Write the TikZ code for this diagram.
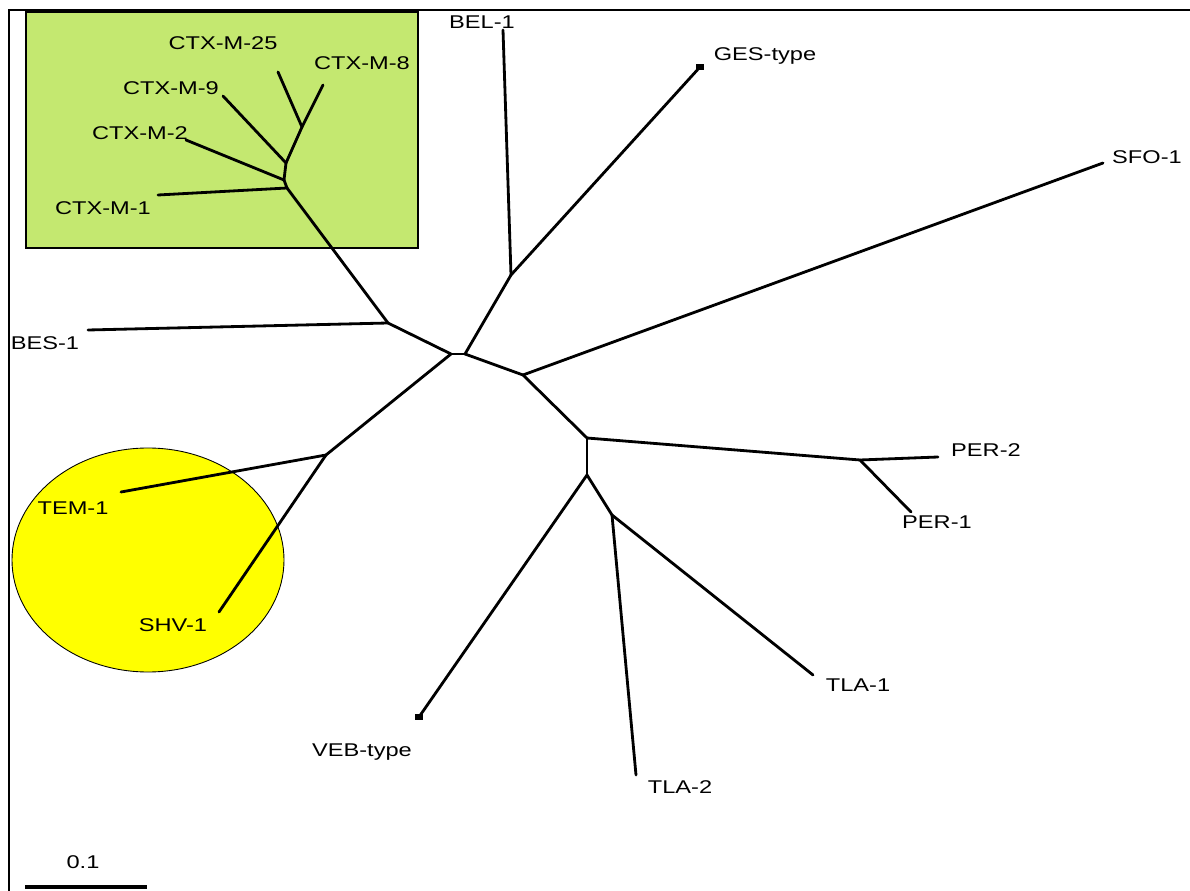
\documentclass[tikz,border=0pt]{standalone}
\usepackage{fontspec}
\newfontfamily\treefont{Liberation Sans}[FakeStretch=1.28]
\usepackage{tikz}
\usetikzlibrary{positioning}

\definecolor{ctxgreen}{RGB}{196,232,112}
\definecolor{shvyellow}{RGB}{255,255,0}

\begin{document}
\begin{tikzpicture}[
      x=0.02cm, y=-0.02cm,
      br/.style={line width=1.6pt, line cap=round, line join=round},
      lab/.style={font=\treefont\fontsize{10.5}{12}\selectfont, inner sep=0pt},
      tipmark/.style={fill=black, inner sep=0pt, minimum width=4.5pt, minimum height=3.5pt}]

    % Scale: 1 unit = 1 pixel of the 1190 x 891 frame
    \useasboundingbox (0,0) rectangle (1190,891);

    % Highlight areas (behind the tree)
    \draw[fill=ctxgreen, line width=0.6pt] (26,12) rectangle (418,248);
    \draw[fill=shvyellow, line width=0.5pt] (148,560) ellipse [x radius=136, y radius=112];

    % Frame (top and left only)
    \draw[line width=0.9pt] (9,891) -- (9,10) -- (1190,10);

    % === Inner nodes ===
    \coordinate (c8)    at (302,127);
    \coordinate (c9)    at (286,163);
    \coordinate (c2)    at (284,180);
    \coordinate (c1)    at (287,188);
    \coordinate (bes)   at (388,323);
    \coordinate (rootL) at (451,354);
    \coordinate (rootR) at (465,354);
    \coordinate (bel)   at (511,275);
    \coordinate (sfo)   at (523,375);
    \coordinate (per)   at (587,438);
    \coordinate (tla)   at (587,475);
    \coordinate (per12) at (860,460);
    \coordinate (tla12) at (612,515);
    \coordinate (tem)   at (326,455);

    % === Leaf ends ===
    \coordinate (eM25)  at (278,72);
    \coordinate (eM8)   at (323,85);
    \coordinate (eM9)   at (223,96);
    \coordinate (eM2)   at (186,140);
    \coordinate (eM1)   at (158,195);
    \coordinate (eBES)  at (88,330);
    \coordinate (eBEL)  at (503,30);
    \coordinate (eGES)  at (700,67);
    \coordinate (eSFO)  at (1103,163);
    \coordinate (ePER2) at (938,457);
    \coordinate (ePER1) at (911,512);
    \coordinate (eTLA1) at (813,675);
    \coordinate (eTLA2) at (636,775);
    \coordinate (eVEB)  at (419,717);
    \coordinate (eTEM)  at (121,492);
    \coordinate (eSHV)  at (219,612);

    % === Branches ===
    \foreach \a/\b in {eM25/c8, eM8/c8, c8/c9, eM9/c9, c9/c2, eM2/c2, c2/c1, eM1/c1,
                       c1/bes, eBES/bes, bes/rootL, rootL/rootR,
                       rootR/bel, bel/eBEL, bel/eGES,
                       rootR/sfo, sfo/eSFO, sfo/per,
                       per/per12, per12/ePER2, per12/ePER1,
                       per/tla, tla/eVEB, tla/tla12, tla12/eTLA1, tla12/eTLA2,
                       rootL/tem, tem/eTEM, tem/eSHV} {
        \draw[br] (\a) -- (\b);
    }

    % Tip markers
    \node[tipmark] (mGES) at (eGES) {};
    \node[tipmark] (mVEB) at (eVEB) {};

    % === Labels ===
    \node[lab] (lM25)  at (223,43)  {CTX-M-25};
    \node[lab] (lM8)   at (362,63)  {CTX-M-8};
    \node[lab] (lM9)   at (171,88)  {CTX-M-9};
    \node[lab] (lM2)   at (140,133) {CTX-M-2};
    \node[lab] (lM1)   at (103,208) {CTX-M-1};
    \node[lab] (lBEL)  at (482,22)  {BEL-1};
    \node[lab] (lGES)  at (765,56)  {GES-type};
    \node[lab] (lSFO)  at (1147,157) {SFO-1};
    \node[lab] (lBES)  at (45,343)  {BES-1};
    \node[lab] (lPER2) at (986,450) {PER-2};
    \node[lab] (lPER1) at (937,522) {PER-1};
    \node[lab] (lTLA1) at (858,685) {TLA-1};
    \node[lab] (lTLA2) at (680,787) {TLA-2};
    \node[lab] (lVEB)  at (362,752) {VEB-type};
    \node[lab] (lTEM)  at (73,508)  {TEM-1};
    \node[lab] (lSHV)  at (173,625) {SHV-1};

    % Scale bar
    \coordinate (sb0) at (25,887);
    \coordinate (sb1) at (147,887);
    \draw[line width=2pt] (sb0) -- (sb1);
    \node[lab] (lScale) at (83,862) {0.1};

\end{tikzpicture}
\end{document}
